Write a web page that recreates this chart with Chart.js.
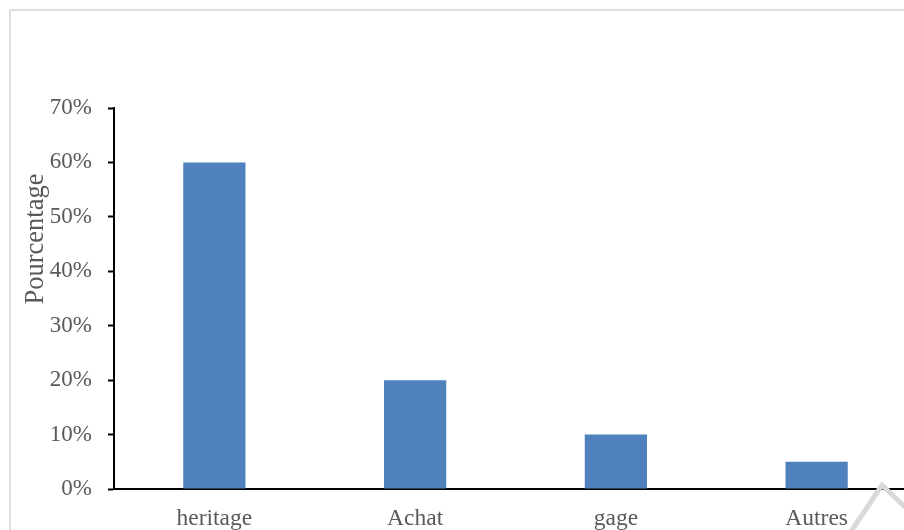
<!DOCTYPE html>
<html>
<head>
<meta charset="utf-8">
<script src="https://cdn.jsdelivr.net/npm/chart.js@4.4.1/dist/chart.umd.min.js"></script>
<style>
  html, body { margin: 0; padding: 0; background: #fff; overflow: hidden; width: 904px; height: 530px; }
  .frame { position: absolute; left: 9px; top: 9px; width: 1000px; height: 1000px; border: 2px solid #dedede; box-sizing: border-box; }
  canvas { position: absolute; left: 0; top: 0; }
</style>
</head>
<body>
<div class="frame"></div>
<canvas id="chart" width="930" height="560"></canvas>
<script>
const categories = ['heritage', 'Achat', 'gage', 'Autres']
const percentages = [60, 20, 10, 5]
const yTicks = [0, 10, 20, 30, 40, 50, 60, 70]

const textColor = '#595959'
const fontFamily = '"Liberation Serif", "Times New Roman", serif'

// rotated axis title, sits a bit above the axis middle
const axisTitle = {
  id: 'axisTitle',
  afterDraw(chart) {
    const ctx = chart.ctx
    ctx.save()
    ctx.translate(36, 239)
    ctx.rotate(-Math.PI / 2)
    ctx.fillStyle = textColor
    ctx.font = '26.5px ' + fontFamily
    ctx.textAlign = 'center'
    ctx.textBaseline = 'middle'
    ctx.fillText('Pourcentage', 0, 0)
    ctx.restore()
  }
}

// faint grey stamp in the lower right corner
const stamp = {
  id: 'stamp',
  afterDraw(chart) {
    const ctx = chart.ctx
    ctx.save()
    ctx.strokeStyle = '#d9d9d9'
    ctx.lineWidth = 5
    ctx.beginPath()
    ctx.moveTo(850, 533)
    ctx.lineTo(882, 485)
    ctx.lineTo(907, 509)
    ctx.stroke()
    ctx.restore()
  }
}

new Chart(document.getElementById('chart'), {
  type: 'bar',
  data: {
    labels: categories,
    datasets: [{
      data: percentages,
      backgroundColor: '#4f81bd',
      borderWidth: 0,
      categoryPercentage: 1,
      barPercentage: 0.31
    }]
  },
  options: {
    responsive: false,
    animation: false,
    layout: { padding: { left: 0, right: 13, top: 108, bottom: 0 } },
    plugins: {
      legend: { display: false },
      tooltip: { enabled: false }
    },
    scales: {
      x: {
        grid: { drawOnChartArea: false, drawTicks: false },
        border: { color: '#000', width: 2 },
        ticks: {
          color: textColor,
          padding: 16,
          font: { family: fontFamily, size: 23.5 }
        },
        afterFit(scale) { scale.height = 71 }
      },
      y: {
        min: 0,
        max: 70,
        afterBuildTicks(scale) { scale.ticks = yTicks.map(v => ({ value: v })) },
        grid: { drawOnChartArea: false, drawTicks: true, tickLength: 6, tickColor: '#000', tickWidth: 2 },
        border: { color: '#000', width: 2 },
        ticks: {
          color: textColor,
          padding: 16,
          font: { family: fontFamily, size: 23 },
          callback: v => v + '%'
        },
        afterFit(scale) { scale.width = 114 }
      }
    }
  },
  plugins: [axisTitle, stamp]
})
</script>
</body>
</html>
